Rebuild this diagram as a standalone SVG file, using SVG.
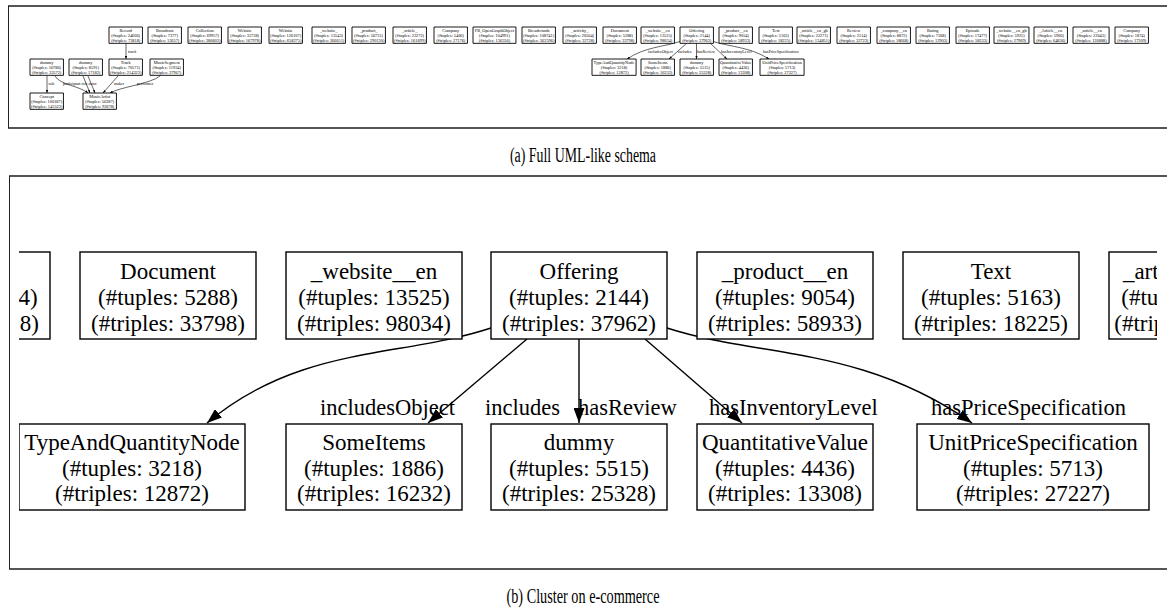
<svg xmlns="http://www.w3.org/2000/svg" width="1167" height="612" viewBox="0 0 1167 612">
<style>
  .frameH { stroke: #555; stroke-width: 2; fill: none; }
  .frameV { stroke: #222; stroke-width: 1; fill: none; }
  .box { fill: #fff; stroke: #000; stroke-width: 1.4; }
  .sbox { fill: #fff; stroke: #000; stroke-width: 0.9; vector-effect: non-scaling-stroke; }
  .t { font-family: "Liberation Serif", "Times New Roman", serif; font-size: 23px; fill: #000; text-anchor: middle; }
  .el { font-family: "Liberation Serif", "Times New Roman", serif; font-size: 22.5px; fill: #000; }
  .sel { font-family: "Liberation Serif", "Times New Roman", serif; font-size: 4.1px; fill: #000; }
  .edge { fill: none; stroke: #000; stroke-width: 1.4; }
  .sedge { fill: none; stroke: #000; stroke-width: 0.6; }
  .cap { font-family: "Liberation Serif", "Times New Roman", serif; font-size: 20px; fill: #000; text-anchor: middle; }
</style>
<defs>
  <marker id="arr" markerUnits="userSpaceOnUse" markerWidth="15" markerHeight="11" refX="15" refY="5.5" orient="auto">
    <path d="M0,0 L15,5.5 L0,11 z" fill="#000"/>
  </marker>
  <marker id="sarr" markerUnits="userSpaceOnUse" markerWidth="3" markerHeight="2.2" refX="3" refY="1.1" orient="auto">
    <path d="M0,0 L3,1.1 L0,2.2 z" fill="#000"/>
  </marker>
  <clipPath id="clipB"><rect x="19" y="177" width="1138" height="391"/></clipPath>
</defs>
<rect x="0" y="0" width="1167" height="612" fill="#fff"/>

<!-- Panel (a) frame -->
<g id="frameA">
  <line class="frameH" x1="8" y1="6" x2="1167" y2="6"/>
  <line class="frameH" x1="8" y1="128" x2="1167" y2="128"/>
  <line class="frameV" x1="8.5" y1="6" x2="8.5" y2="128"/>
</g>

<!-- Panel (a) connectors -->
<g id="connectorsA">
  <path class="sedge" d="M126,43 L126,59" marker-end="url(#sarr)"/>
  <path class="sedge" d="M47,76 L47,93" marker-end="url(#sarr)"/>
  <path class="sedge" d="M55,76 C60,85 80,86 88,93" marker-end="url(#sarr)"/>
  <path class="sedge" d="M83,76 L90,93" marker-end="url(#sarr)"/>
  <path class="sedge" d="M88,76 L95,93" marker-end="url(#sarr)"/>
  <path class="sedge" d="M118,76 L103,93" marker-end="url(#sarr)"/>
  <path class="sedge" d="M160,76 C150,84 120,87 110,93" marker-end="url(#sarr)"/>
  <path class="sedge" d="M680,41.5 C663,47 645,47 627,59" marker-end="url(#sarr)"/>
  <path class="sedge" d="M687,43 L669,59" marker-end="url(#sarr)"/>
  <path class="sedge" d="M696.5,43 L696.5,59" marker-end="url(#sarr)"/>
  <path class="sedge" d="M710,43 L727,59" marker-end="url(#sarr)"/>
  <path class="sedge" d="M713,41.5 C731,47 750,47 769,59" marker-end="url(#sarr)"/>
  <text class="sel" x="128" y="52.5">track</text>
  <text class="sel" x="48.5" y="85">role</text>
  <text class="sel" x="63" y="85">participant</text>
  <text class="sel" x="81.5" y="85">role</text>
  <text class="sel" x="88.5" y="85">actor</text>
  <text class="sel" x="114" y="85">maker</text>
  <text class="sel" x="137" y="85">performer</text>
  <text class="sel" x="648" y="53">includesObject</text>
  <text class="sel" x="678" y="53">includes</text>
  <text class="sel" x="697" y="53">hasReview</text>
  <text class="sel" x="721" y="53">hasInventoryLevel</text>
  <text class="sel" x="763" y="53">hasPriceSpecification</text>
</g>

<!-- Panel (a) nodes (drawn at 0.19 scale) -->
<g id="a_record" transform="translate(109,27) scale(0.19)"><rect class="sbox" width="176" height="86"/><text class="t" x="88" y="28">Record</text><text class="t" x="88" y="53">(#tuples: 24606)</text><text class="t" x="88" y="78">(#triples: 73818)</text></g>
<g id="a_broadcast" transform="translate(148,27) scale(0.19)"><rect class="sbox" width="176" height="86"/><text class="t" x="88" y="28">Broadcast</text><text class="t" x="88" y="53">(#tuples: 7377)</text><text class="t" x="88" y="78">(#triples: 12657)</text></g>
<g id="a_collection" transform="translate(188,27) scale(0.19)"><rect class="sbox" width="176" height="86"/><text class="t" x="88" y="28">Collection</text><text class="t" x="88" y="53">(#tuples: 69957)</text><text class="t" x="88" y="78">(#triples: 380603)</text></g>
<g id="a_website1" transform="translate(228,27) scale(0.19)"><rect class="sbox" width="176" height="86"/><text class="t" x="88" y="28">Website</text><text class="t" x="88" y="53">(#tuples: 35738)</text><text class="t" x="88" y="78">(#triples: 167978)</text></g>
<g id="a_website2" transform="translate(269,27) scale(0.19)"><rect class="sbox" width="176" height="86"/><text class="t" x="88" y="28">Website</text><text class="t" x="88" y="53">(#tuples: 126107)</text><text class="t" x="88" y="78">(#triples: 658275)</text></g>
<g id="a_website_" transform="translate(312,27) scale(0.19)"><rect class="sbox" width="176" height="86"/><text class="t" x="88" y="28">_website_</text><text class="t" x="88" y="53">(#tuples: 13543)</text><text class="t" x="88" y="78">(#triples: 266611)</text></g>
<g id="a_product_" transform="translate(352,27) scale(0.19)"><rect class="sbox" width="176" height="86"/><text class="t" x="88" y="28">_product_</text><text class="t" x="88" y="53">(#tuples: 56731)</text><text class="t" x="88" y="78">(#triples: 290130)</text></g>
<g id="a_article_" transform="translate(393,27) scale(0.19)"><rect class="sbox" width="176" height="86"/><text class="t" x="88" y="28">_article_</text><text class="t" x="88" y="53">(#tuples: 23272)</text><text class="t" x="88" y="78">(#triples: 161699)</text></g>
<g id="a_company1" transform="translate(434,27) scale(0.19)"><rect class="sbox" width="176" height="86"/><text class="t" x="88" y="28">Company</text><text class="t" x="88" y="53">(#tuples: 5406)</text><text class="t" x="88" y="78">(#triples: 27176)</text></g>
<g id="a_fbog" transform="translate(473,27) scale(0.19)"><rect class="sbox" width="226" height="86"/><text class="t" x="113" y="28">FB_OpenGraphObject</text><text class="t" x="113" y="53">(#tuples: 104991)</text><text class="t" x="113" y="78">(#triples: 136556)</text></g>
<g id="a_breadcrumb" transform="translate(522,27) scale(0.19)"><rect class="sbox" width="176" height="86"/><text class="t" x="88" y="28">Breadcrumb</text><text class="t" x="88" y="53">(#tuples: 108741)</text><text class="t" x="88" y="78">(#triples: 362596)</text></g>
<g id="a_activity_" transform="translate(563,27) scale(0.19)"><rect class="sbox" width="176" height="86"/><text class="t" x="88" y="28">_activity_</text><text class="t" x="88" y="53">(#tuples: 20564)</text><text class="t" x="88" y="78">(#triples: 32728)</text></g>
<g id="a_document" transform="translate(603,27) scale(0.19)"><rect class="sbox" width="176" height="86"/><text class="t" x="88" y="28">Document</text><text class="t" x="88" y="53">(#tuples: 5288)</text><text class="t" x="88" y="78">(#triples: 33798)</text></g>
<g id="a_website_en" transform="translate(641,27) scale(0.19)"><rect class="sbox" width="176" height="86"/><text class="t" x="88" y="28">_website__en</text><text class="t" x="88" y="53">(#tuples: 13525)</text><text class="t" x="88" y="78">(#triples: 98034)</text></g>
<g id="a_offering" transform="translate(680,27) scale(0.19)"><rect class="sbox" width="176" height="86"/><text class="t" x="88" y="28">Offering</text><text class="t" x="88" y="53">(#tuples: 2144)</text><text class="t" x="88" y="78">(#triples: 37962)</text></g>
<g id="a_product_en" transform="translate(719,27) scale(0.19)"><rect class="sbox" width="176" height="86"/><text class="t" x="88" y="28">_product__en</text><text class="t" x="88" y="53">(#tuples: 9054)</text><text class="t" x="88" y="78">(#triples: 58933)</text></g>
<g id="a_text" transform="translate(759,27) scale(0.19)"><rect class="sbox" width="176" height="86"/><text class="t" x="88" y="28">Text</text><text class="t" x="88" y="53">(#tuples: 5163)</text><text class="t" x="88" y="78">(#triples: 18225)</text></g>
<g id="a_article_en_gb" transform="translate(797,27) scale(0.19)"><rect class="sbox" width="176" height="86"/><text class="t" x="88" y="28">_article__en_gb</text><text class="t" x="88" y="53">(#tuples: 22271)</text><text class="t" x="88" y="78">(#triples: 134851)</text></g>
<g id="a_review" transform="translate(837,27) scale(0.19)"><rect class="sbox" width="176" height="86"/><text class="t" x="88" y="28">Review</text><text class="t" x="88" y="53">(#tuples: 2514)</text><text class="t" x="88" y="78">(#triples: 32723)</text></g>
<g id="a_company_en" transform="translate(877,27) scale(0.19)"><rect class="sbox" width="176" height="86"/><text class="t" x="88" y="28">_company__en</text><text class="t" x="88" y="53">(#tuples: 8872)</text><text class="t" x="88" y="78">(#triples: 18668)</text></g>
<g id="a_rating" transform="translate(916,27) scale(0.19)"><rect class="sbox" width="176" height="86"/><text class="t" x="88" y="28">Rating</text><text class="t" x="88" y="53">(#tuples: 7368)</text><text class="t" x="88" y="78">(#triples: 12903)</text></g>
<g id="a_episode" transform="translate(956,27) scale(0.19)"><rect class="sbox" width="176" height="86"/><text class="t" x="88" y="28">Episode</text><text class="t" x="88" y="53">(#tuples: 17477)</text><text class="t" x="88" y="78">(#triples: 58333)</text></g>
<g id="a_website_en_gb" transform="translate(994,27) scale(0.19)"><rect class="sbox" width="184" height="86"/><text class="t" x="92" y="28">_website__en_gb</text><text class="t" x="92" y="53">(#tuples: 5925)</text><text class="t" x="92" y="78">(#triples: 27969)</text></g>
<g id="a_Article_en" transform="translate(1034,27) scale(0.19)"><rect class="sbox" width="176" height="86"/><text class="t" x="88" y="28">_Article__en</text><text class="t" x="88" y="53">(#tuples: 5960)</text><text class="t" x="88" y="78">(#triples: 64836)</text></g>
<g id="a_article_en" transform="translate(1073,27) scale(0.19)"><rect class="sbox" width="190" height="86"/><text class="t" x="95" y="28">_article__en</text><text class="t" x="95" y="53">(#tuples: 22643)</text><text class="t" x="95" y="78">(#triples: 126888)</text></g>
<g id="a_company2" transform="translate(1115,27) scale(0.19)"><rect class="sbox" width="176" height="86"/><text class="t" x="88" y="28">Company</text><text class="t" x="88" y="53">(#tuples: 1874)</text><text class="t" x="88" y="78">(#triples: 17209)</text></g>

<g id="a_dummy1" transform="translate(30,59) scale(0.19)"><rect class="sbox" width="176" height="86"/><text class="t" x="88" y="28">dummy</text><text class="t" x="88" y="53">(#tuples: 16786)</text><text class="t" x="88" y="78">(#triples: 33572)</text></g>
<g id="a_dummy2" transform="translate(69,59) scale(0.19)"><rect class="sbox" width="176" height="86"/><text class="t" x="88" y="28">dummy</text><text class="t" x="88" y="53">(#tuples: 8591)</text><text class="t" x="88" y="78">(#triples: 17182)</text></g>
<g id="a_track" transform="translate(109,59) scale(0.19)"><rect class="sbox" width="176" height="86"/><text class="t" x="88" y="28">Track</text><text class="t" x="88" y="53">(#tuples: 70571)</text><text class="t" x="88" y="78">(#triples: 214323)</text></g>
<g id="a_musicsegment" transform="translate(150,59) scale(0.19)"><rect class="sbox" width="176" height="86"/><text class="t" x="88" y="28">MusicSegment</text><text class="t" x="88" y="53">(#tuples: 11934)</text><text class="t" x="88" y="78">(#triples: 37967)</text></g>
<g id="a_taqn" transform="translate(592,59) scale(0.19)"><rect class="sbox" width="232" height="86"/><text class="t" x="116" y="28">TypeAndQuantityNode</text><text class="t" x="116" y="53">(#tuples: 3218)</text><text class="t" x="116" y="78">(#triples: 12872)</text></g>
<g id="a_someitems" transform="translate(641,59) scale(0.19)"><rect class="sbox" width="176" height="86"/><text class="t" x="88" y="28">SomeItems</text><text class="t" x="88" y="53">(#tuples: 1886)</text><text class="t" x="88" y="78">(#triples: 16232)</text></g>
<g id="a_dummy3" transform="translate(680,59) scale(0.19)"><rect class="sbox" width="176" height="86"/><text class="t" x="88" y="28">dummy</text><text class="t" x="88" y="53">(#tuples: 5515)</text><text class="t" x="88" y="78">(#triples: 25328)</text></g>
<g id="a_qv" transform="translate(719,59) scale(0.19)"><rect class="sbox" width="176" height="86"/><text class="t" x="88" y="28">QuantitativeValue</text><text class="t" x="88" y="53">(#tuples: 4436)</text><text class="t" x="88" y="78">(#triples: 13308)</text></g>
<g id="a_ups" transform="translate(760,59) scale(0.19)"><rect class="sbox" width="232" height="86"/><text class="t" x="116" y="28">UnitPriceSpecification</text><text class="t" x="116" y="53">(#tuples: 5713)</text><text class="t" x="116" y="78">(#triples: 27227)</text></g>
<g id="a_concept" transform="translate(30,93) scale(0.19)"><rect class="sbox" width="176" height="86"/><text class="t" x="88" y="28">Concept</text><text class="t" x="88" y="53">(#tuples: 100187)</text><text class="t" x="88" y="78">(#triples: 145523)</text></g>
<g id="a_musicartist" transform="translate(83,93) scale(0.19)"><rect class="sbox" width="176" height="86"/><text class="t" x="88" y="28">MusicArtist</text><text class="t" x="88" y="53">(#tuples: 56387)</text><text class="t" x="88" y="78">(#triples: 92678)</text></g>

<text id="capA" class="cap" x="583" y="162" textLength="146" lengthAdjust="spacingAndGlyphs">(a) Full UML-like schema</text>

<!-- Panel (b) frame -->
<g id="frameB">
  <line class="frameH" x1="9" y1="176" x2="1167" y2="176"/>
  <line class="frameH" x1="9" y1="569" x2="1167" y2="569"/>
  <line class="frameV" x1="9.5" y1="176" x2="9.5" y2="569"/>
</g>

<g clip-path="url(#clipB)">
  <g id="connectorsB">
    <path class="edge" d="M491,328 C400,358 300,345 207,423" marker-end="url(#arr)"/>
    <path class="edge" d="M527,339 L428,423" marker-end="url(#arr)"/>
    <path class="edge" d="M579,339 L579,423" marker-end="url(#arr)"/>
    <path class="edge" d="M645,339 L742,423" marker-end="url(#arr)"/>
    <path class="edge" d="M667,328 C760,358 860,345 972,423" marker-end="url(#arr)"/>
    <text class="el" x="320" y="415">includesObject</text>
    <text class="el" x="485" y="415">includes</text>
    <text class="el" x="578" y="415">hasReview</text>
    <text class="el" x="709" y="415">hasInventoryLevel</text>
    <text class="el" x="931" y="415">hasPriceSpecification</text>
  </g>
  <g id="b_activity_"><rect class="box" x="-126" y="252" width="176" height="87"/><text class="t" x="-38" y="279">_activity_</text><text class="t" x="-38" y="305">(#tuples: 20564)</text><text class="t" x="-38" y="331">(#triples: 32728)</text></g>
  <g id="b_document"><rect class="box" x="80" y="252" width="176" height="87"/><text class="t" x="168" y="279">Document</text><text class="t" x="168" y="305">(#tuples: 5288)</text><text class="t" x="168" y="331">(#triples: 33798)</text></g>
  <g id="b_website_en"><rect class="box" x="286" y="252" width="176" height="87"/><text class="t" x="374" y="279">_website__en</text><text class="t" x="374" y="305">(#tuples: 13525)</text><text class="t" x="374" y="331">(#triples: 98034)</text></g>
  <g id="b_offering"><rect class="box" x="491" y="252" width="176" height="87"/><text class="t" x="579" y="279">Offering</text><text class="t" x="579" y="305">(#tuples: 2144)</text><text class="t" x="579" y="331">(#triples: 37962)</text></g>
  <g id="b_product_en"><rect class="box" x="697" y="252" width="176" height="87"/><text class="t" x="785" y="279">_product__en</text><text class="t" x="785" y="305">(#tuples: 9054)</text><text class="t" x="785" y="331">(#triples: 58933)</text></g>
  <g id="b_text"><rect class="box" x="903" y="252" width="176" height="87"/><text class="t" x="991" y="279">Text</text><text class="t" x="991" y="305">(#tuples: 5163)</text><text class="t" x="991" y="331">(#triples: 18225)</text></g>
  <g id="b_article_en_gb"><rect class="box" x="1109" y="252" width="176" height="87"/><text class="t" x="1197" y="279">_article__en_gb</text><text class="t" x="1197" y="305">(#tuples: 22271)</text><text class="t" x="1197" y="331">(#triples: 134851)</text></g>

  <g id="b_taqn"><rect class="box" x="19" y="424" width="226" height="86"/><text class="t" x="132" y="450">TypeAndQuantityNode</text><text class="t" x="132" y="476">(#tuples: 3218)</text><text class="t" x="132" y="501">(#triples: 12872)</text></g>
  <g id="b_someitems"><rect class="box" x="286" y="424" width="176" height="86"/><text class="t" x="374" y="450">SomeItems</text><text class="t" x="374" y="476">(#tuples: 1886)</text><text class="t" x="374" y="501">(#triples: 16232)</text></g>
  <g id="b_dummy"><rect class="box" x="491" y="424" width="176" height="86"/><text class="t" x="579" y="450">dummy</text><text class="t" x="579" y="476">(#tuples: 5515)</text><text class="t" x="579" y="501">(#triples: 25328)</text></g>
  <g id="b_qv"><rect class="box" x="697" y="424" width="176" height="86"/><text class="t" x="785" y="450">QuantitativeValue</text><text class="t" x="785" y="476">(#tuples: 4436)</text><text class="t" x="785" y="501">(#triples: 13308)</text></g>
  <g id="b_ups"><rect class="box" x="917" y="424" width="232" height="86"/><text class="t" x="1033" y="450">UnitPriceSpecification</text><text class="t" x="1033" y="476">(#tuples: 5713)</text><text class="t" x="1033" y="501">(#triples: 27227)</text></g>
</g>

<text id="capB" class="cap" x="583" y="603" textLength="153" lengthAdjust="spacingAndGlyphs">(b) Cluster on e-commerce</text>
</svg>
